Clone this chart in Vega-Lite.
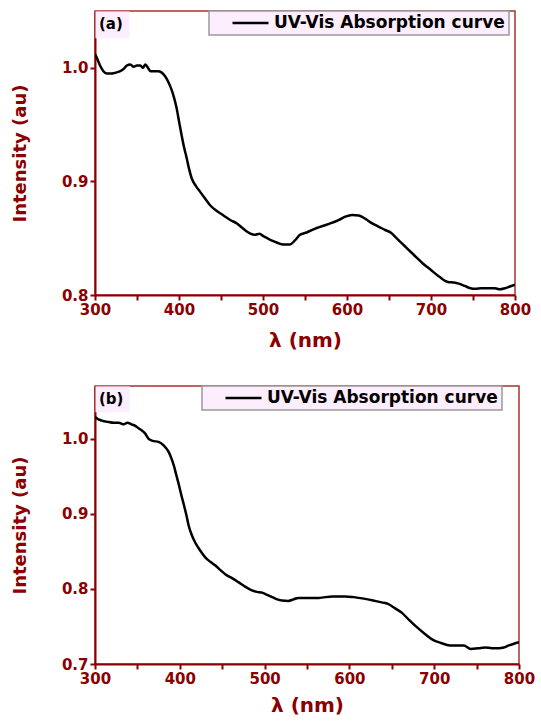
{
  "$schema": "https://vega.github.io/schema/vega-lite/v6.json",
  "background": "white",
  "padding": {"left": 10, "top": 9, "right": 20, "bottom": 5},
  "spacing": 33,
  "resolve": {"scale": {"color": "independent"}, "legend": {"color": "independent"}},
  "config": {
    "view": {"stroke": "#a83232", "strokeWidth": 1.5},
    "axis": {
      "grid": false,
      "domainColor": "#8B0000",
      "domainWidth": 2,
      "tickColor": "#8B0000",
      "tickWidth": 2,
      "tickSize": 5,
      "labelColor": "#8B0000",
      "labelFont": "DejaVu Sans",
      "labelFontWeight": "bold",
      "labelFontSize": 15,
      "labelPadding": 2,
      "labelFlush": false,
      "titleColor": "#8B0000",
      "titleFont": "DejaVu Sans",
      "titleFontWeight": "bold"
    },
    "legend": {
      "orient": "none",
      "legendY": 0,
      "fillColor": "#fdeefd",
      "strokeColor": "#9a9a9a",
      "strokeWidth": 1.5,
      "padding": 4,
      "symbolType": "stroke",
      "symbolSize": 1296,
      "symbolStrokeWidth": 2.5,
      "symbolOffset": 18,
      "clipHeight": 16,
      "labelOffset": 4,
      "labelFont": "DejaVu Sans",
      "labelFontWeight": "bold",
      "labelFontSize": 17,
      "labelColor": "black",
      "labelLimit": 400,
      "title": null
    }
  },
  "vconcat": [
    {
      "width": 420,
      "height": 284,
      "layer": [
        {
          "data": {
            "values": [
              {"wavelength": 300, "intensity": 1.012},
              {"wavelength": 302, "intensity": 1.009},
              {"wavelength": 306, "intensity": 1.002},
              {"wavelength": 310, "intensity": 0.997},
              {"wavelength": 314, "intensity": 0.995},
              {"wavelength": 320, "intensity": 0.995},
              {"wavelength": 326, "intensity": 0.996},
              {"wavelength": 330, "intensity": 0.997},
              {"wavelength": 334, "intensity": 0.999},
              {"wavelength": 338, "intensity": 1.002},
              {"wavelength": 342, "intensity": 1.003},
              {"wavelength": 346, "intensity": 1.001},
              {"wavelength": 350, "intensity": 1.002},
              {"wavelength": 354, "intensity": 1.002},
              {"wavelength": 357, "intensity": 1.0},
              {"wavelength": 360, "intensity": 1.003},
              {"wavelength": 363, "intensity": 1.0},
              {"wavelength": 366, "intensity": 0.997},
              {"wavelength": 370, "intensity": 0.997},
              {"wavelength": 375, "intensity": 0.997},
              {"wavelength": 379, "intensity": 0.996},
              {"wavelength": 383, "intensity": 0.993},
              {"wavelength": 387, "intensity": 0.988},
              {"wavelength": 391, "intensity": 0.981},
              {"wavelength": 394, "intensity": 0.974},
              {"wavelength": 397, "intensity": 0.965},
              {"wavelength": 400, "intensity": 0.953},
              {"wavelength": 403, "intensity": 0.941},
              {"wavelength": 406, "intensity": 0.93},
              {"wavelength": 409, "intensity": 0.921},
              {"wavelength": 412, "intensity": 0.911},
              {"wavelength": 415, "intensity": 0.903},
              {"wavelength": 420, "intensity": 0.896},
              {"wavelength": 425, "intensity": 0.891},
              {"wavelength": 431, "intensity": 0.885},
              {"wavelength": 437, "intensity": 0.879},
              {"wavelength": 445, "intensity": 0.874},
              {"wavelength": 453, "intensity": 0.87},
              {"wavelength": 461, "intensity": 0.866},
              {"wavelength": 469, "intensity": 0.863},
              {"wavelength": 477, "intensity": 0.858},
              {"wavelength": 485, "intensity": 0.854},
              {"wavelength": 490, "intensity": 0.853},
              {"wavelength": 496, "intensity": 0.854},
              {"wavelength": 500, "intensity": 0.852},
              {"wavelength": 505, "intensity": 0.85},
              {"wavelength": 510, "intensity": 0.848},
              {"wavelength": 517, "intensity": 0.846},
              {"wavelength": 524, "intensity": 0.8445},
              {"wavelength": 532, "intensity": 0.8445},
              {"wavelength": 538, "intensity": 0.848},
              {"wavelength": 544, "intensity": 0.853},
              {"wavelength": 552, "intensity": 0.855},
              {"wavelength": 564, "intensity": 0.859},
              {"wavelength": 572, "intensity": 0.861},
              {"wavelength": 580, "intensity": 0.863},
              {"wavelength": 590, "intensity": 0.866},
              {"wavelength": 598, "intensity": 0.869},
              {"wavelength": 606, "intensity": 0.8705},
              {"wavelength": 614, "intensity": 0.87},
              {"wavelength": 622, "intensity": 0.867},
              {"wavelength": 630, "intensity": 0.863},
              {"wavelength": 638, "intensity": 0.86},
              {"wavelength": 646, "intensity": 0.857},
              {"wavelength": 652, "intensity": 0.855},
              {"wavelength": 659, "intensity": 0.85},
              {"wavelength": 666, "intensity": 0.845},
              {"wavelength": 673, "intensity": 0.84},
              {"wavelength": 680, "intensity": 0.835},
              {"wavelength": 690, "intensity": 0.828},
              {"wavelength": 700, "intensity": 0.822},
              {"wavelength": 710, "intensity": 0.816},
              {"wavelength": 720, "intensity": 0.8115},
              {"wavelength": 727, "intensity": 0.811},
              {"wavelength": 733, "intensity": 0.81},
              {"wavelength": 740, "intensity": 0.808},
              {"wavelength": 747, "intensity": 0.806},
              {"wavelength": 753, "intensity": 0.8055},
              {"wavelength": 760, "intensity": 0.806},
              {"wavelength": 766, "intensity": 0.806},
              {"wavelength": 770, "intensity": 0.806},
              {"wavelength": 776, "intensity": 0.806},
              {"wavelength": 782, "intensity": 0.805},
              {"wavelength": 788, "intensity": 0.806},
              {"wavelength": 794, "intensity": 0.8075},
              {"wavelength": 800, "intensity": 0.809}
            ]
          },
          "mark": {"type": "line", "strokeWidth": 2.5, "interpolate": "monotone", "clip": true},
          "encoding": {
            "x": {
              "field": "wavelength", "type": "quantitative",
              "scale": {"domain": [300, 800], "nice": false},
              "axis": {
                "values": [300, 350, 400, 450, 500, 550, 600, 650, 700, 750, 800],
                "labelExpr": "datum.value % 100 == 0 ? datum.label : ''",
                "title": "λ (nm)", "titleFontSize": 20, "titlePadding": 13
              }
            },
            "y": {
              "field": "intensity", "type": "quantitative",
              "scale": {"domain": [0.8, 1.05], "nice": false, "zero": false},
              "axis": {
                "values": [0.8, 0.9, 1.0], "format": ".1f",
                "title": "Intensity (au)", "titleFontSize": 18, "titlePadding": 32
              }
            },
            "color": {
              "datum": "UV-Vis Absorption curve",
              "scale": {"range": ["black"]},
              "legend": {"legendX": 114}
            }
          }
        },
        {
          "data": {"values": [{"label": "(a)"}]},
          "mark": {"type": "rect", "fill": "#fdeefd"},
          "encoding": {
            "x": {"datum": 300.5},
            "x2": {"datum": 341},
            "y": {"datum": 1.0495},
            "y2": {"datum": 1.026}
          }
        },
        {
          "data": {"values": [{"label": "(a)"}]},
          "mark": {"type": "text", "font": "DejaVu Sans", "fontWeight": "bold", "fontSize": 15, "align": "left", "baseline": "middle", "dx": 4, "dy": 13, "color": "black"},
          "encoding": {
            "text": {"field": "label"},
            "x": {"datum": 300},
            "y": {"datum": 1.05}
          }
        }
      ]
    },
    {
      "width": 424,
      "height": 278,
      "layer": [
        {
          "data": {
            "values": [
              {"wavelength": 300, "intensity": 1.029},
              {"wavelength": 302, "intensity": 1.027},
              {"wavelength": 308, "intensity": 1.024},
              {"wavelength": 316, "intensity": 1.022},
              {"wavelength": 322, "intensity": 1.021},
              {"wavelength": 328, "intensity": 1.021},
              {"wavelength": 334, "intensity": 1.019},
              {"wavelength": 338, "intensity": 1.021},
              {"wavelength": 343, "intensity": 1.019},
              {"wavelength": 347.5, "intensity": 1.017},
              {"wavelength": 351, "intensity": 1.014},
              {"wavelength": 355, "intensity": 1.011},
              {"wavelength": 359, "intensity": 1.007},
              {"wavelength": 363, "intensity": 1.0},
              {"wavelength": 368, "intensity": 0.997},
              {"wavelength": 375, "intensity": 0.9956},
              {"wavelength": 381, "intensity": 0.991},
              {"wavelength": 387, "intensity": 0.982},
              {"wavelength": 390, "intensity": 0.974},
              {"wavelength": 393, "intensity": 0.964},
              {"wavelength": 396, "intensity": 0.951},
              {"wavelength": 399, "intensity": 0.938},
              {"wavelength": 402, "intensity": 0.924},
              {"wavelength": 405, "intensity": 0.911},
              {"wavelength": 408, "intensity": 0.897},
              {"wavelength": 410.5, "intensity": 0.884},
              {"wavelength": 414, "intensity": 0.872},
              {"wavelength": 418, "intensity": 0.862},
              {"wavelength": 424, "intensity": 0.851},
              {"wavelength": 430, "intensity": 0.842},
              {"wavelength": 436, "intensity": 0.836},
              {"wavelength": 442, "intensity": 0.831},
              {"wavelength": 448, "intensity": 0.825},
              {"wavelength": 454, "intensity": 0.819},
              {"wavelength": 462, "intensity": 0.814},
              {"wavelength": 469, "intensity": 0.809},
              {"wavelength": 477, "intensity": 0.803},
              {"wavelength": 485, "intensity": 0.798},
              {"wavelength": 491, "intensity": 0.796},
              {"wavelength": 497, "intensity": 0.795},
              {"wavelength": 503, "intensity": 0.792},
              {"wavelength": 509, "intensity": 0.789},
              {"wavelength": 515, "intensity": 0.786},
              {"wavelength": 520.5, "intensity": 0.7845},
              {"wavelength": 528, "intensity": 0.784},
              {"wavelength": 534, "intensity": 0.786},
              {"wavelength": 540, "intensity": 0.788},
              {"wavelength": 552, "intensity": 0.788},
              {"wavelength": 564, "intensity": 0.788},
              {"wavelength": 580, "intensity": 0.79},
              {"wavelength": 595, "intensity": 0.79},
              {"wavelength": 605, "intensity": 0.789},
              {"wavelength": 617, "intensity": 0.787},
              {"wavelength": 630, "intensity": 0.784},
              {"wavelength": 638, "intensity": 0.782},
              {"wavelength": 645.5, "intensity": 0.78},
              {"wavelength": 654, "intensity": 0.774},
              {"wavelength": 662, "intensity": 0.768},
              {"wavelength": 670, "intensity": 0.759},
              {"wavelength": 678.5, "intensity": 0.75},
              {"wavelength": 688, "intensity": 0.741},
              {"wavelength": 698.5, "intensity": 0.732},
              {"wavelength": 708, "intensity": 0.728},
              {"wavelength": 718.6, "intensity": 0.7247},
              {"wavelength": 727, "intensity": 0.7245},
              {"wavelength": 735, "intensity": 0.7245},
              {"wavelength": 743, "intensity": 0.72},
              {"wavelength": 752, "intensity": 0.721},
              {"wavelength": 760, "intensity": 0.722},
              {"wavelength": 768, "intensity": 0.721},
              {"wavelength": 776, "intensity": 0.721},
              {"wavelength": 782, "intensity": 0.722},
              {"wavelength": 788, "intensity": 0.7247},
              {"wavelength": 794, "intensity": 0.727},
              {"wavelength": 800, "intensity": 0.729}
            ]
          },
          "mark": {"type": "line", "strokeWidth": 2.5, "interpolate": "monotone", "clip": true},
          "encoding": {
            "x": {
              "field": "wavelength", "type": "quantitative",
              "scale": {"domain": [300, 800], "nice": false},
              "axis": {
                "values": [300, 350, 400, 450, 500, 550, 600, 650, 700, 750, 800],
                "labelExpr": "datum.value % 100 == 0 ? datum.label : ''",
                "title": "λ (nm)", "titleFontSize": 20, "titlePadding": 9
              }
            },
            "y": {
              "field": "intensity", "type": "quantitative",
              "scale": {"domain": [0.7, 1.07], "nice": false, "zero": false},
              "axis": {
                "values": [0.7, 0.8, 0.9, 1.0], "format": ".1f",
                "title": "Intensity (au)", "titleFontSize": 18, "titlePadding": 32
              }
            },
            "color": {
              "datum": "UV-Vis Absorption curve",
              "scale": {"range": ["black"]},
              "legend": {"legendX": 107}
            }
          }
        },
        {
          "data": {"values": [{"label": "(b)"}]},
          "mark": {"type": "rect", "fill": "#fdeefd"},
          "encoding": {
            "x": {"datum": 300.5},
            "x2": {"datum": 341},
            "y": {"datum": 1.0695},
            "y2": {"datum": 1.035}
          }
        },
        {
          "data": {"values": [{"label": "(b)"}]},
          "mark": {"type": "text", "font": "DejaVu Sans", "fontWeight": "bold", "fontSize": 15, "align": "left", "baseline": "middle", "dx": 4, "dy": 13, "color": "black"},
          "encoding": {
            "text": {"field": "label"},
            "x": {"datum": 300},
            "y": {"datum": 1.07}
          }
        }
      ]
    }
  ]
}
